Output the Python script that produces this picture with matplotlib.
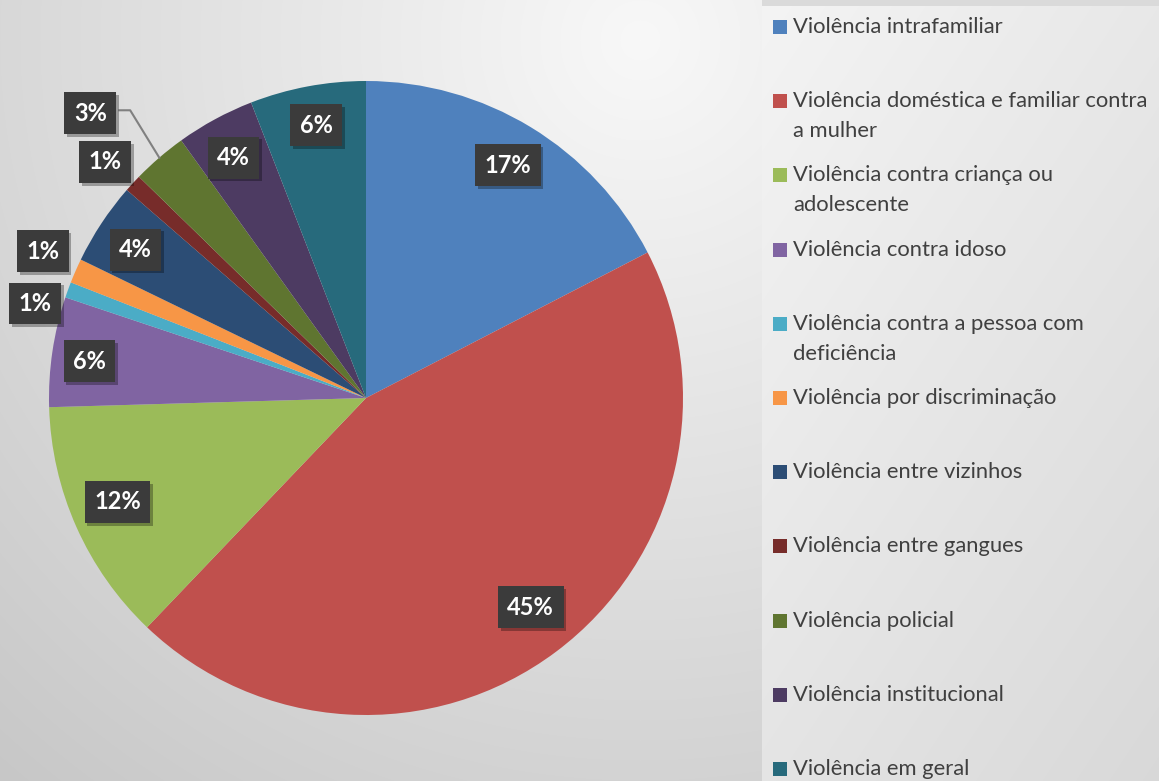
import numpy as np
import matplotlib.pyplot as plt
from matplotlib.patches import Rectangle
from matplotlib import patheffects

# Data (share of cases, %)
categories = [
    "Violência intrafamiliar",
    "Violência doméstica e familiar contra\na mulher",
    "Violência contra criança ou\nadolescente",
    "Violência contra idoso",
    "Violência contra a pessoa com\ndeficiência",
    "Violência por discriminação",
    "Violência entre vizinhos",
    "Violência entre gangues",
    "Violência policial",
    "Violência institucional",
    "Violência em geral",
]
values = [17.4, 44.7, 12.4, 5.6, 0.8, 1.25, 4.2, 0.9, 2.8, 4.0, 5.9]
colors = ["#4F81BD", "#C0504D", "#9BBB59", "#8064A2", "#4BACC6", "#F79646",
          "#2C4D75", "#772C2A", "#5F7530", "#4D3B62", "#276A7C"]

# label placement: radius and angle shift (deg) per slice
label_r = [0.86, 0.84, 0.85, 0.88, 1.085, 1.12, 0.865, 1.11, 1.25, 0.866, 0.875]
label_shift = [0, 1.4, -1.3, 0.8, 4.0, -0.8, 0.7, 0.5, 3.4, 0.4, -0.3]

W, H = 1159, 781
fig = plt.figure(figsize=(W / 100, H / 100), dpi=100)

# background
bg = fig.add_axes([0, 0, 1, 1])
bg.set_xlim(0, W)
bg.set_ylim(H, 0)
bg.axis("off")
yy, xx = np.mgrid[0:H, 0:W]
d = np.hypot(xx - 640, yy - 40)
img = 248 - 0.05 * d
right = 244 - 0.03 * (xx - 762) - 0.02 * yy
img = np.where(xx >= 762, right, img)
img = np.where((xx >= 762) & (yy < 6), 218, img)
img = np.clip(img, 0, 255) / 255.0
bg.imshow(np.dstack([img, img, img]), extent=(0, W, H, 0), aspect="auto", zorder=0)

# pie
cx, cy, R = 366, 398, 317
ax = fig.add_axes([(cx - R) / W, (H - cy - R) / H, 2 * R / W, 2 * R / H])
wedges, _ = ax.pie(values, colors=colors, startangle=90, counterclock=False,
                   radius=1, wedgeprops=dict(linewidth=0))
ax.set_xlim(-1, 1)
ax.set_ylim(-1, 1)

total = sum(values)
for i, w in enumerate(wedges):
    mid = np.deg2rad((w.theta1 + w.theta2) / 2)
    ang = mid + np.deg2rad(label_shift[i])
    x, y = label_r[i] * np.cos(ang), label_r[i] * np.sin(ang)
    t = ax.text(x, y, f"{values[i] / total * 100:.0f}%", ha="center", va="center",
                color="white", fontsize=17, fontweight="bold", family="Lato",
                bbox=dict(boxstyle="square,pad=0.4", facecolor="#3b3b3b",
                          edgecolor="none"), zorder=5)
    t.get_bbox_patch().set_path_effects(
        [patheffects.withSimplePatchShadow(offset=(2, -2), shadow_rgbFace="black", alpha=0.3)])
    if label_r[i] > 1.2:
        # leader line from the label to the wedge edge
        ex, ey = np.cos(mid), np.sin(mid)
        x0 = x + 0.092
        ax.plot([x0, x0 + 0.034, ex], [y + 0.01, y + 0.01, ey],
                color="#808080", lw=1.5, zorder=4, clip_on=False)

# legend
top, step, line_gap = 27, 74.2, 30
for i, lab in enumerate(categories):
    yc = top + i * step
    bg.add_patch(Rectangle((773, yc - 7), 14, 14, facecolor=colors[i],
                           edgecolor="none", zorder=2))
    for j, line in enumerate(lab.split("\n")):
        bg.text(793, yc + j * line_gap, line, ha="left", va="center",
                fontsize=15.8, family="Lato", color="#404040", zorder=2)

fig.savefig("out.png", dpi=100)
